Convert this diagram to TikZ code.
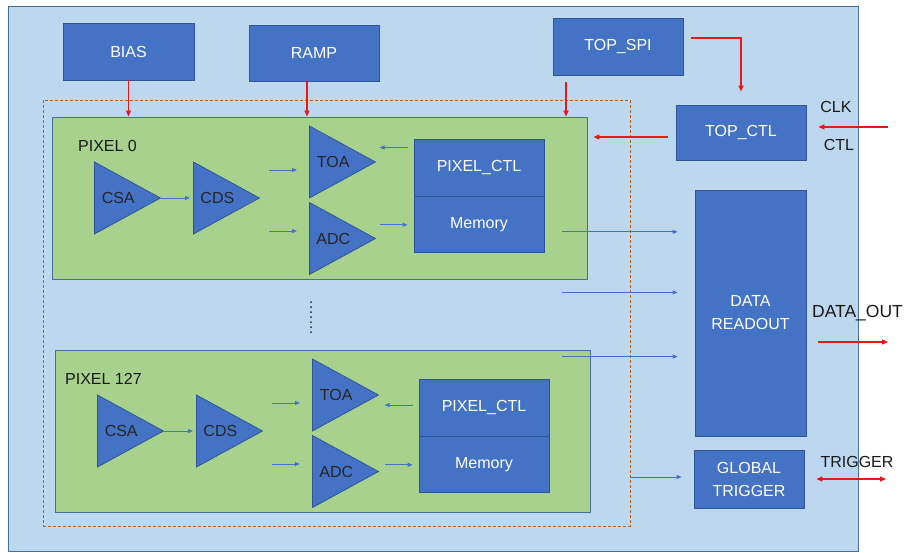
\documentclass[tikz,border=0pt]{standalone}
\usepackage{fontspec}
\setmainfont{Liberation Sans}
\usetikzlibrary{arrows.meta,shapes.geometric,positioning,calc}

\definecolor{chipbg}{HTML}{BDD7EE}
\definecolor{chipedge}{HTML}{41719C}
\definecolor{blk}{HTML}{4472C4}
\definecolor{blkedge}{HTML}{2F5597}
\definecolor{pixfill}{HTML}{A9D18E}
\definecolor{dashorange}{HTML}{C55A11}
\definecolor{sigred}{RGB}{232,24,24}

\begin{document}
\begin{tikzpicture}[x=1pt,y=-1pt,font=\fontsize{16}{23}\selectfont,
  block/.style={draw=blkedge, fill=blk, text=white, line width=0.8pt, inner sep=0pt, align=center},
  pixbox/.style={draw=chipedge, fill=pixfill, line width=0.8pt, inner sep=0pt},
  amp/.style={isosceles triangle, isosceles triangle stretches, draw=blkedge, fill=blk,
    line width=0.8pt, minimum width=72pt, minimum height=66pt, inner sep=0pt,
    anchor=lower side, text=black!85},
  sig/.style={draw=sigred, line width=1.3pt, -{Triangle[length=6pt,width=5pt]}},
  flow/.style={draw=blk, line width=0.8pt, -{Triangle[length=5pt,width=4pt]}},
  tag/.style={text=black!90, inner sep=0pt}]
\useasboundingbox (0,0) rectangle (905,552);

% chip outline and top level blocks
\node[draw=chipedge, fill=chipbg, line width=1pt, inner sep=0pt,
  minimum width=850pt, minimum height=545pt] (chip) at (433,278.5) {};
\node[block, minimum width=131pt, minimum height=57pt] (bias) at (128.5,51.5) {BIAS};
\node[block, minimum width=130pt, minimum height=56pt] (ramp) at (314,53) {RAMP};
\node[block, minimum width=130pt, minimum height=57pt] (spi) at (618,46.5) {TOP\_SPI};
\node[block, minimum width=130pt, minimum height=55pt] (ctl) at (741,132.5) {TOP\_CTL};
\node[block, minimum width=111pt, minimum height=246pt] (readout) at (750.5,313) {DATA\\READOUT};
\node[block, minimum width=110pt, minimum height=58pt] (glob) at (749,479) {GLOBAL\\TRIGGER};

% pixel array
\node[draw=dashorange, line width=0.8pt, dash pattern=on 3pt off 2pt, inner sep=0pt,
  minimum width=587pt, minimum height=426pt] (array) at (336.5,313) {};

\foreach \p/\dx/\dy/\ex/\ey/\lx/\ay in {0/0/0/0/0/26/-20, 127/3/233/2/7/10/-2.5} {
  \begin{scope}[shift={(\dx,\dy)}]
    \node[pixbox, minimum width=535pt, minimum height=162pt] (pix\p) at (319.5,198) {};
    \node[tag, anchor=west] (name\p) at (52+\lx,146) {PIXEL \p};
    \node[amp] (csa\p) at (94,198) {CSA};
    \node[amp] (cds\p) at (193,198) {CDS};
    \node[amp] (toa\p) at (309,162) {TOA};
    \node[amp] (adc\p) at (309,238.5) {ADC};
    \node[block, minimum width=130pt, minimum height=57pt] (pctl\p) at (479+\ex,167.5+\ey) {PIXEL\_CTL};
    \node[block, minimum width=130pt, minimum height=56pt, anchor=north] (mem\p) at (pctl\p.south) {Memory};
  \end{scope}
  \draw[flow] (csa\p.apex) -- ($(cds\p.lower side)+(-3,0)$);
  \draw[flow] ($(toa\p.lower side)+(-40,8)$) -- ($(toa\p.lower side)+(-12,8)$);
  \draw[flow] ($(adc\p.lower side)+(-40,-7.5)$) -- ($(adc\p.lower side)+(-12,-7.5)$);
  \draw[flow] ($(pctl\p.west)+(-6,\ay)$) -- ($(pctl\p.west)+(-34,\ay)$);
  \draw[flow] ($(mem\p.west)+(-34,0)$) -- ($(mem\p.west)+(-6,0)$);
}

% the pixels in between
\foreach \k in {0,...,6}
  \fill[black!85] (311,302+5*\k) circle (1pt);

% data towards the readout
\draw[flow] ($(mem0.east)+(18,7)$) coordinate (r0) -- ([xshift=-17pt]r0 -| readout.west);
\draw[flow] ($(pix0.south east)+(-25,13)$) coordinate (r1) -- ([xshift=-17pt]r1 -| readout.west);
\draw[flow] ($(pix127.north east)+(-28,7)$) coordinate (r2) -- ([xshift=-17pt]r2 -| readout.west);
\draw[flow] ([yshift=2pt]array.east |- glob.west) -- ([xshift=-12pt,yshift=2pt]glob.west);

% bias, ramp and control lines
\draw[sig] (bias.south) -- (bias.south |- pix0.north);
\draw[sig] ([xshift=-7pt]ramp.south) -- ([xshift=-7pt]ramp.south |- pix0.north);
\draw[sig] ([xshift=-52pt,yshift=-7pt]spi.south) -- ([xshift=-52pt]spi.south |- pix0.north);
\draw[sig] ([xshift=8pt,yshift=8.5pt]spi.east) -| ([yshift=13pt]ctl.north);
\draw[sig] ([xshift=-8pt,yshift=-4.5pt]ctl.west) coordinate (c0) -- ([xshift=6pt]pix0.east |- c0);

% chip pins
\coordinate (clkin) at (888,127);
\coordinate (dout) at (888,342);
\coordinate (trigio) at (886,479);
\draw[sig] (clkin) -- ([xshift=12pt]ctl.east |- clkin);
\draw[sig] ([xshift=12pt]readout.east |- dout) -- (dout);
\draw[sig, {Triangle[length=6pt,width=5pt]}-{Triangle[length=6pt,width=5pt]}]
  ([xshift=12pt]glob.east) -- (trigio);
\node[tag] (clk) at (836,107) {CLK};
\node[tag] (ctlpin) at (839,145) {CTL};
\node[tag, font=\fontsize{17.5}{23}\selectfont] (doutpin) at (857.5,313) {DATA\_OUT};
\node[tag] (trigpin) at (857,462) {TRIGGER};
\end{tikzpicture}
\end{document}
